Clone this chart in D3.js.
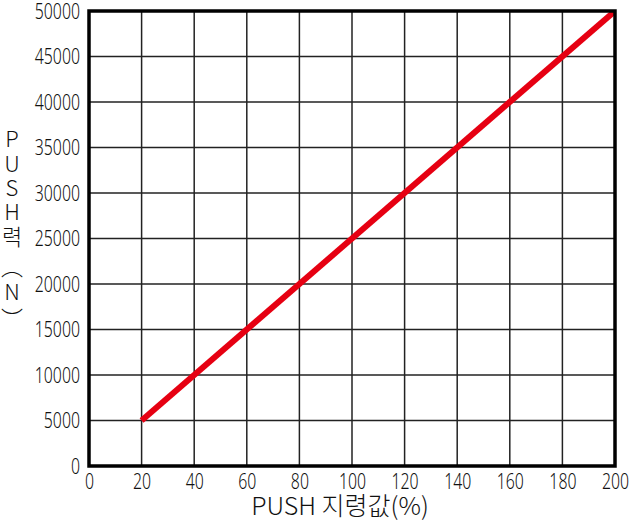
<!DOCTYPE html>
<html><head><meta charset="utf-8">
<script src="https://cdn.jsdelivr.net/npm/d3@7"></script>
<style>
body{margin:0;background:#fff;}
svg{display:block;}
.tick text{font-family:"Noto Sans",sans-serif;font-size:22px;font-weight:300;fill:#111;}
</style></head>
<body>
<script>
const xValues = [20, 200];
const yValues = [5000, 50000];
const xTicks = [0,20,40,60,80,100,120,140,160,180,200];
const yTicks = [0,5000,10000,15000,20000,25000,30000,35000,40000,45000,50000];
const xTitle = "PUSH 지령값(%)";
const yTitleChars = ["P","U","S","H","력","︵","N","︶"];

const W=630,H=523;
const m={l:89,t:11,r:15,b:57};
const sx=0.72;
const svg=d3.select("body").append("svg").attr("width",W).attr("height",H);
const x=d3.scaleLinear().domain([0,200]).range([m.l,W-m.r]);
const y=d3.scaleLinear().domain([0,50000]).range([H-m.b,m.t]);

// grid
const g=svg.append("g");
g.selectAll("line.v").data(xTicks.slice(1,-1)).join("line")
 .attr("x1",d=>x(d)).attr("x2",d=>x(d)).attr("y1",y(0)).attr("y2",y(50000))
 .attr("stroke","#222").attr("stroke-width",1.5);
g.selectAll("line.h").data(yTicks.slice(1,-1)).join("line")
 .attr("y1",d=>y(d)).attr("y2",d=>y(d)).attr("x1",x(0)).attr("x2",x(200))
 .attr("stroke","#222").attr("stroke-width",1.5);

// axes labels
const xa=svg.append("g").attr("transform",`translate(0,${y(0)})`)
 .call(d3.axisBottom(x).tickValues(xTicks).tickSize(0).tickPadding(7));
xa.select(".domain").remove();
xa.selectAll(".tick text").attr("transform",`scale(${sx},1)`);
const ya=svg.append("g").attr("transform",`translate(${x(0)},0)`)
 .call(d3.axisLeft(y).tickValues(yTicks).tickSize(0).tickPadding(9).tickFormat(d3.format("d")));
ya.select(".domain").remove();
ya.selectAll(".tick text").attr("x",-9/sx).attr("transform",`scale(${sx},1)`);

// clip
svg.append("clipPath").attr("id","clip").append("rect")
 .attr("x",x(0)).attr("y",y(50000)).attr("width",x(200)-x(0)).attr("height",y(0)-y(50000));

// data line
const pts=xValues.map((v,i)=>[v,yValues[i]]);
svg.append("path").datum(pts).attr("clip-path","url(#clip)")
 .attr("d",d3.line().x(d=>x(d[0])).y(d=>y(d[1])))
 .attr("fill","none").attr("stroke","#e60012").attr("stroke-width",6);

// border
svg.append("rect").attr("x",x(0)).attr("y",y(50000)).attr("width",x(200)-x(0)).attr("height",y(0)-y(50000))
 .attr("fill","none").attr("stroke","#000").attr("stroke-width",3.5);

// titles
svg.append("text").attr("x",340).attr("y",515).attr("text-anchor","middle")
 .style("font-family","'Noto Sans CJK KR','Noto Sans',sans-serif").style("font-size","25px").style("font-weight","300").attr("fill","#111")
 .text(xTitle);
const yPos=[137,162,186,210,235,265,290,317];
svg.append("g").selectAll("text").data(yTitleChars).join("text")
 .attr("x",12).attr("y",(d,i)=>yPos[i]).attr("text-anchor","middle").attr("dominant-baseline","central")
 .style("font-family","'Noto Sans CJK KR','Noto Sans',sans-serif").style("font-size","22px").style("font-weight","300").attr("fill","#111")
 .text(d=>d);
</script>
</body></html>
